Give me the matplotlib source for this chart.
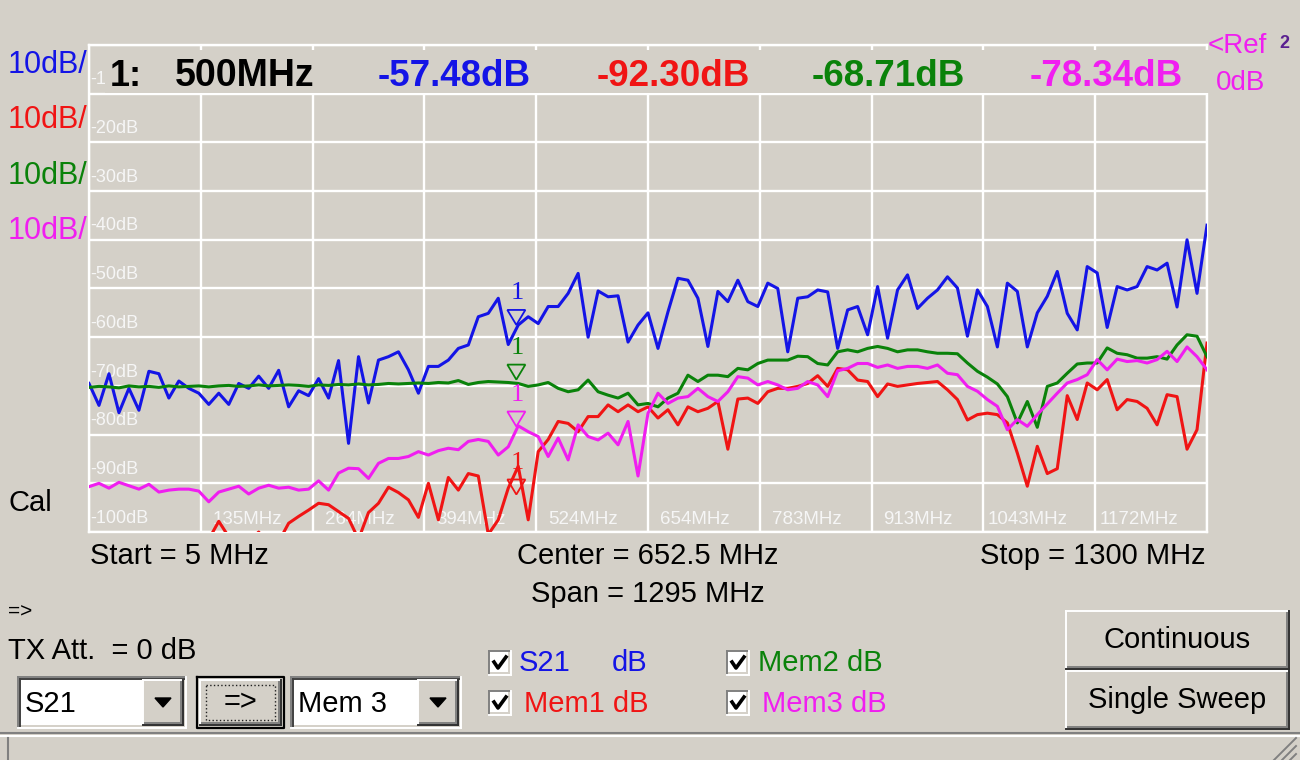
import numpy as np
import matplotlib.pyplot as plt
from matplotlib.patches import Rectangle, Polygon
from matplotlib.lines import Line2D
from matplotlib.transforms import Affine2D

plt.rcParams['font.family'] = ['Liberation Sans', 'DejaVu Sans']

BG = '#d4d0c8'
BLUE = '#1414e6'
RED = '#f01414'
GREEN = '#0a820a'
MAGENTA = '#f01ef0'

# sweep: 113 points from 5 to 1300 MHz
freq = np.linspace(5, 1300, 113)

s21 = [-69.5, -74.0, -67.5, -75.5, -70.5, -75.0, -67.0, -67.5, -72.5, -69.0,
       -70.5, -71.5, -73.8, -71.5, -73.8, -69.5, -70.5, -68.0, -70.5, -66.8,
       -74.3, -71.0, -72.0, -68.5, -72.5, -64.8, -81.8, -64.0, -73.5, -64.7,
       -64.0, -63.0, -66.7, -71.5, -66.0, -66.0, -64.7, -62.3, -61.6, -55.8,
       -55.1, -52.0, -61.5, -57.5, -55.8, -57.2, -53.7, -53.7, -51.0, -46.9,
       -60.0, -50.5, -51.7, -51.5, -61.0, -57.5, -55.0, -62.3, -54.8, -47.9,
       -48.3, -52.0, -61.9, -50.6, -52.7, -48.3, -52.7, -53.7, -48.9, -50.0,
       -63.0, -52.0, -51.7, -50.3, -50.7, -62.3, -54.4, -53.7, -59.5, -49.6,
       -60.2, -50.3, -47.2, -54.1, -52.0, -50.3, -47.6, -49.9, -59.8, -50.3,
       -53.7, -62.0, -48.9, -50.6, -62.0, -55.0, -51.6, -46.5, -55.1, -58.5,
       -45.5, -46.8, -58.0, -49.6, -50.3, -49.6, -45.5, -46.2, -44.8, -53.8,
       -40.0, -51.0, -37.0]

mem1 = [-104, -103, -105, -102, -104, -106, -103, -104, -102, -105,
        -103, -104, -101.5, -97.8, -101, -103, -102, -100, -103, -102,
        -98.2, -96.8, -95.5, -94.1, -94.4, -95.8, -97.2, -101.5, -96.0, -94.1,
        -90.8, -91.9, -93.4, -97.0, -90.0, -97.5, -88.8, -91.4, -88.0, -88.5,
        -100.5, -97.5, -91.0, -86.5, -97.5, -83.5, -81.0, -77.3, -77.7, -79.4,
        -76.3, -76.3, -73.9, -75.3, -73.9, -75.3, -74.3, -76.6, -74.9, -78.0,
        -74.3, -75.3, -74.6, -73.2, -83.0, -72.7, -72.5, -73.6, -71.2, -70.5,
        -70.5, -70.1, -69.5, -67.9, -70.1, -66.4, -66.7, -68.8, -69.1, -72.2,
        -69.6, -70.1, -69.8, -69.5, -69.3, -69.1, -70.8, -72.8, -77.0, -75.9,
        -75.6, -75.9, -77.6, -83.8, -90.6, -82.4, -88.0, -87.0, -72.0, -76.9,
        -69.4, -70.8, -68.7, -74.9, -72.8, -73.2, -74.6, -78.0, -71.8, -72.2,
        -83.0, -79.0, -61.2]

mem2 = [-70.3, -70.1, -70.2, -70.4, -70.0, -70.2, -70.1, -70.3, -70.0, -70.2,
        -70.1, -70.0, -70.2, -70.0, -69.9, -70.1, -70.0, -69.8, -70.0, -69.9,
        -69.8, -69.9, -70.1, -69.8, -69.9, -69.7, -69.8, -69.6, -69.8, -69.7,
        -69.5, -69.6, -69.5, -69.4, -69.5, -69.3, -69.4, -68.9, -69.7, -69.3,
        -69.1, -69.2, -69.3, -69.5, -70.1, -69.8, -69.3, -70.5, -71.2, -70.8,
        -68.8, -71.2, -71.9, -72.5, -71.5, -73.9, -73.6, -74.3, -72.5, -71.5,
        -67.8, -69.1, -67.8, -67.8, -68.1, -66.4, -66.7, -65.4, -64.7, -64.7,
        -64.7, -63.9, -64.0, -65.4, -65.7, -63.0, -62.6, -63.0, -62.3, -61.9,
        -62.3, -63.0, -62.6, -62.6, -63.0, -63.3, -63.3, -63.4, -65.3, -67.0,
        -68.2, -69.6, -72.2, -77.6, -73.2, -78.5, -70.1, -69.4, -67.4, -65.5,
        -65.3, -65.3, -62.2, -63.3, -63.6, -64.3, -64.3, -64.0, -64.5, -61.6,
        -59.5, -59.8, -64.0]

mem3 = [-90.7, -90.0, -91.0, -89.8, -90.5, -91.2, -90.2, -91.8, -91.4, -91.2,
        -91.2, -91.6, -93.8, -91.8, -91.2, -90.6, -92.2, -91.0, -90.4, -91.0,
        -90.8, -91.4, -91.2, -89.5, -91.4, -87.9, -86.9, -87.0, -89.0, -85.9,
        -84.9, -84.9, -84.5, -83.5, -84.2, -83.3, -82.8, -83.1, -81.4, -81.0,
        -81.4, -84.2, -82.5, -78.2, -79.4, -80.4, -84.5, -80.7, -85.2, -78.0,
        -80.4, -81.1, -79.7, -82.1, -77.3, -88.5, -75.6, -71.5, -73.6, -72.5,
        -72.2, -70.5, -72.2, -73.2, -71.2, -68.1, -68.4, -69.8, -69.1, -69.8,
        -70.8, -70.5, -69.1, -69.8, -72.2, -66.9, -66.4, -65.4, -65.4, -66.2,
        -65.7, -66.4, -66.0, -66.0, -66.4, -65.7, -67.4, -67.7, -70.1, -71.1,
        -72.8, -74.2, -79.0, -76.9, -78.3, -75.9, -73.7, -71.5, -69.4, -68.7,
        -67.7, -64.6, -66.7, -64.5, -65.0, -64.8, -65.3, -64.6, -62.9, -65.0,
        -62.0, -64.0, -66.7]

marker_freq = 500
marker_vals = [-57.48, -92.30, -68.71, -78.34]
marker_cols = [BLUE, RED, GREEN, MAGENTA]
readout = ['-57.48dB', '-92.30dB', '-68.71dB', '-78.34dB']

grid_freqs = [5 + 129.5 * k for k in range(11)]
freq_labels = ['135MHz', '264MHz', '394MHz', '524MHz', '654MHz',
               '783MHz', '913MHz', '1043MHz', '1172MHz']
db_levels = [-20, -30, -40, -50, -60, -70, -80, -90, -100]

W, H = 1300, 760
fig = plt.figure(figsize=(W / 100, H / 100), dpi=100, facecolor=BG)
# pixel coordinates, origin at top-left
T = Affine2D().scale(1 / W, -1 / H).translate(0, 1) + fig.transFigure

L, R, TOP, BOT = 89, 1207, 45, 532
ax = fig.add_axes([L / W, 1 - BOT / H, (R - L) / W, (BOT - TOP) / H])
ax.set_facecolor(BG)
ax.set_xlim(5, 1300)
ax.set_ylim(-100, 0)
ax.set_xticks(grid_freqs)
ax.set_yticks(range(-100, 1, 10))
ax.tick_params(length=0, labelbottom=False, labelleft=False)
ax.grid(True, color='white', lw=1.7)
for sp in ax.spines.values():
    sp.set_color('white')
    sp.set_linewidth(1.7)

dxp = 1295 / (R - L)   # MHz per pixel
dyp = 100 / (BOT - TOP)  # dB per pixel

# the -10dB label is hidden behind the readout, only "-1" shows
ax.text(7, -10 + 1.1, '-1', color='#f6f6f6', fontsize=13,
        ha='left', va='bottom', zorder=2)
for v in db_levels:
    ax.text(7, v + 1.1, f'{v}dB', color='#f6f6f6', fontsize=13,
            ha='left', va='bottom', zorder=2)
for f, lab in zip(grid_freqs[1:], freq_labels):
    off = 12 if len(lab) == 6 else 4
    ax.text(f + off * dxp, -99.2, lab, color='#f6f6f6', fontsize=13.5,
            ha='left', va='bottom', zorder=2)

ax.plot(freq, s21, color=BLUE, lw=2.2, zorder=3)
ax.plot(freq, mem1, color=RED, lw=2.2, zorder=4)
ax.plot(freq, mem2, color=GREEN, lw=2.2, zorder=5)
ax.plot(freq, mem3, color=MAGENTA, lw=2.2, zorder=6)

# markers "1" at 500 MHz
for v, c in zip(marker_vals, marker_cols):
    tri = Polygon([(marker_freq, v), (marker_freq - 9 * dxp, v + 15 * dyp),
                   (marker_freq + 9 * dxp, v + 15 * dyp)], closed=True,
                  fill=False, ec=c, lw=1.3, zorder=8)
    ax.add_patch(tri)
    ax.text(marker_freq + dxp, v + 21 * dyp, '1', color=c, fontsize=19,
            family='Liberation Serif', ha='center', va='bottom', zorder=8)


def rect(x0, y0, x1, y1, fc, z=1.5):
    fig.add_artist(Rectangle((x0, y0), x1 - x0, y1 - y0, transform=T,
                             fc=fc, ec='none', zorder=z))


def line(xs, ys, color, lw=1.4, ls='-', z=2):
    fig.add_artist(Line2D(xs, ys, transform=T, color=color, lw=lw, ls=ls,
                          zorder=z))


def bevel(x0, y0, x1, y1, raised=True):
    if raised:
        lt, rb, rb2 = 'white', '#303030', '#808080'
    else:
        lt, rb, rb2 = '#808080', 'white', BG
    line([x0, x1], [y0, y0], lt)
    line([x0, x0], [y0, y1], lt)
    line([x0, x1], [y1, y1], rb)
    line([x1, x1], [y0, y1], rb)
    line([x0 + 2, x1 - 2], [y1 - 2, y1 - 2], rb2)
    line([x1 - 2, x1 - 2], [y0 + 2, y1 - 2], rb2)


def text(x, y, s, color='black', size=21, ha='left', va='center', **kw):
    fig.text(x, y, s, transform=T, color=color, fontsize=size, ha=ha, va=va,
             zorder=3, **kw)


# marker readout band covers the top grid row
rect(105, 50, 1210, 93, BG, z=1.2)
text(110, 86, '1:', size=26, va='baseline', weight='bold')
text(175, 86, '500MHz', size=27, va='baseline', weight='bold')
for xl, s, c in zip([378, 597, 812, 1030], readout,
                    [BLUE, RED, GREEN, MAGENTA]):
    text(xl, 86, s, color=c, size=26.5, va='baseline', weight='bold')

# left scale labels
for y, c in zip([65, 120, 176, 231], [BLUE, RED, GREEN, MAGENTA]):
    text(8, y, '10dB/', color=c, size=22)
text(8, 503, 'Cal')
text(1208, 46, '<Ref', color=MAGENTA, size=20)
text(1279, 44, '2', color='#5a2090', size=13, weight='bold')
text(1216, 83, '0dB', color=MAGENTA, size=20)

text(90, 556, 'Start = 5 MHz')
text(648, 556, 'Center = 652.5 MHz', ha='center')
text(1206, 556, 'Stop = 1300 MHz', ha='right')
text(648, 594, 'Span = 1295 MHz', ha='center')
text(8, 612, '=>', size=15)
text(8, 651, 'TX Att.  = 0 dB')

# combo boxes
for x0, x1, lab in [(18, 186, 'S21'), (291, 461, 'Mem 3')]:
    rect(x0, 677, x1, 728, 'white')
    bevel(x0, 677, x1, 728, raised=False)
    line([x0 + 2, x1 - 2], [679, 679], '#404040')
    line([x0 + 2, x0 + 2], [679, 726], '#404040')
    bx = x1 - 43
    rect(bx, 680, x1 - 3, 725, BG, z=1.6)
    bevel(bx, 680, x1 - 3, 725)
    cx = (bx + x1 - 3) / 2
    fig.add_artist(Polygon([(cx - 8, 698), (cx + 8, 698), (cx, 707)],
                           transform=T, fc='black', ec='black', zorder=3))
    text(x0 + 7, 704, lab)

# "=>" default button
rect(197, 677, 284, 728, BG)
line([197, 284, 284, 197, 197], [677, 677, 728, 728, 677], 'black', lw=1.6)
bevel(200, 680, 281, 725)
line([206, 275, 275, 206, 206], [685, 685, 720, 720, 685], '#202020',
     lw=1.0, ls=':')
text(240.5, 702, '=>', ha='center')

# check boxes
for bx, by in [(489, 651), (489, 691), (727, 651), (727, 691)]:
    rect(bx, by, bx + 22, by + 24, 'white')
    bevel(bx, by, bx + 22, by + 24, raised=False)
    line([bx + 5, bx + 9, bx + 17], [by + 11, by + 17, by + 6], 'black', lw=2.6)
for (s, x0, y, c) in [('S21', 519, 663, BLUE), ('dB', 612, 663, BLUE),
                      ('Mem1 dB', 524, 704, RED), ('Mem2 dB', 758, 663, GREEN),
                      ('Mem3 dB', 762, 704, MAGENTA)]:
    text(x0, y, s, color=c)

# sweep buttons
for y0, y1, lab in [(611, 669, 'Continuous'), (671, 729, 'Single Sweep')]:
    bevel(1066, y0, 1289, y1)
    text(1177, (y0 + y1) / 2, lab, ha='center')

# status bar
line([0, 1300], [733, 733], '#808080', lw=1.5)
line([0, 1300], [735.5, 735.5], 'white', lw=1.5)
line([8, 8], [738, 760], '#808080', lw=1.5)
for k in range(3):
    line([1274 + 8 * k, 1296], [760, 738 + 8 * k], '#808080', lw=1.4)

fig.savefig('out.png', dpi=100, facecolor=BG)
